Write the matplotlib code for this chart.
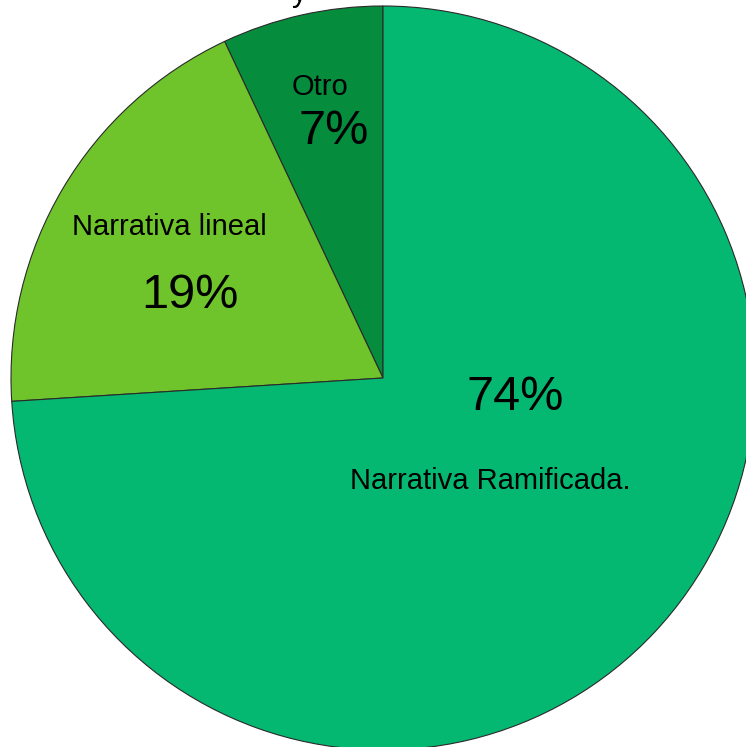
import matplotlib.pyplot as plt

# Survey shares
labels = ['Otro', 'Narrativa lineal', 'Narrativa Ramificada.']
values = [7, 19, 74]
colors = ['#058C3C', '#6EC42A', '#04B872']

plt.rcParams['font.family'] = ['Liberation Sans', 'DejaVu Sans']

W, H = 746, 747
fig = plt.figure(figsize=(W / 100, H / 100), dpi=100)
ax = fig.add_axes([0, 0, 1, 1])

cx, cy, r = 383, 378, 372  # pie centre and radius in pixels
wedges, _ = ax.pie(values, colors=colors, startangle=90, counterclock=True,
                   wedgeprops=dict(edgecolor='#2a2a2a', linewidth=0.8))

# map data units to pixels so the pie sits where it should (partly clipped)
ax.set_aspect('auto')
ax.set_xlim(-cx / r, (W - cx) / r)
ax.set_ylim(-(H - cy) / r, cy / r)
ax.axis('off')


def px(x, y):
    return (x - cx) / r, (cy - y) / r


def pct(v):
    return f'{v}%'


# slice labels
ax.text(*px(320, 87), labels[0], fontsize=21, ha='center', va='center')
ax.text(*px(334, 132), pct(values[0]), fontsize=35, ha='center', va='center')
ax.text(*px(169, 227), labels[1], fontsize=21, ha='center', va='center')
ax.text(*px(190, 295), pct(values[1]), fontsize=35, ha='center', va='center')
ax.text(*px(515, 398), pct(values[2]), fontsize=35, ha='center', va='center')
ax.text(*px(490, 481), labels[2], fontsize=21, ha='center', va='center')

# tail of the title above the chart, mostly outside the canvas
fig.text(292 / W, 1 - 1 / H, 'y', fontsize=22, ha='left', va='baseline')

fig.savefig('out.png', dpi=100)
